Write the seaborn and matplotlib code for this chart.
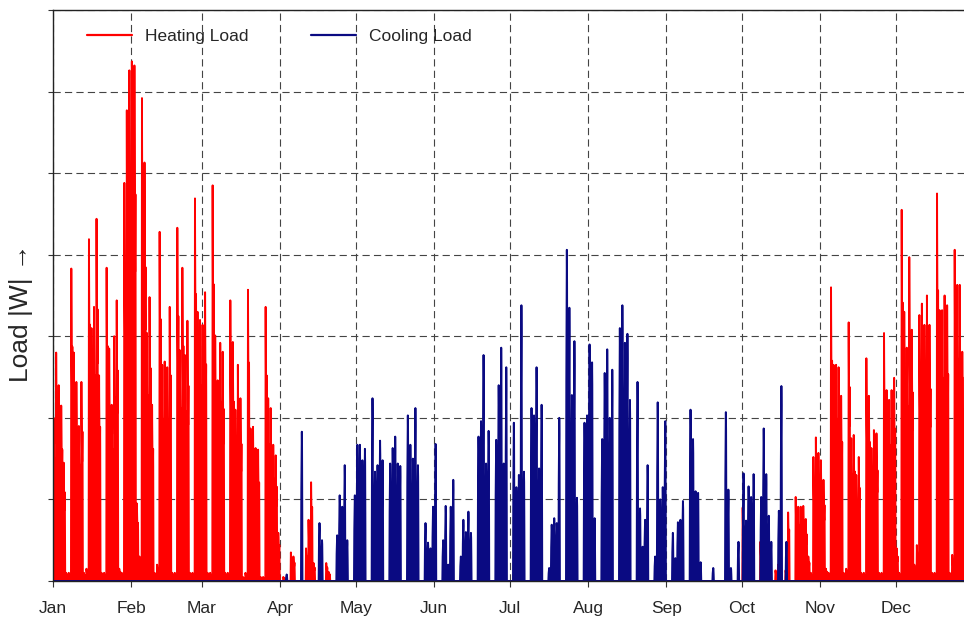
import numpy as np
import pandas as pd
import matplotlib
matplotlib.use("Agg")
import matplotlib.pyplot as plt
import seaborn as sns

# ---------------- data ----------------
months = ["Jan", "Feb", "Mar", "Apr", "May", "Jun", "Jul", "Aug", "Sep", "Oct", "Nov", "Dec"]
month_start_day = [0, 31, 59, 90, 120, 151, 181, 212, 243, 273, 304, 334]

# daily peak heating load (grid units), Jan 1 .. Apr 21 (days 0-111), one row per week
heat_winter = [
    2.00, 2.80, 2.40, 2.15, 1.45, 0.10, 0.10,
    3.83, 2.80, 2.44, 1.90, 2.44, 0.10, 0.15,
    4.19, 3.10, 3.36, 4.44, 2.52, 0.10, 0.10,
    3.84, 2.85, 2.16, 3.00, 3.44, 0.15, 0.10,
    4.88, 5.77, 6.26, 6.37, 6.32, 0.95, 0.30,
    5.92, 5.13, 3.04, 3.48, 2.16, 0.10, 0.20,
    4.28, 2.65, 2.69, 2.62, 3.36, 0.10, 0.10,
    4.33, 2.83, 3.84, 2.77, 3.19, 0.10, 0.10,
    4.69, 3.30, 3.20, 3.14, 3.54, 0.10, 0.10,
    4.85, 3.01, 2.46, 2.92, 2.81, 0.10, 0.10,
    3.44, 2.93, 2.10, 2.65, 2.24, 0.05, 0.10,
    3.57, 1.87, 1.89, 1.63, 1.61, 0.05, 0.05,
    3.36, 2.24, 2.12, 1.67, 1.54, 0.59, 0.00,
    0.05, 0.00, 0.00, 0.35, 0.30, 0.00, 0.00,
    0.00, 0.00, 0.40, 0.75, 1.21, 0.22, 0.00,
    0.00, 0.00, 0.00, 0.22, 0.11, 0.00, 0.00,
]
heat_summer_days_off = 161  # days 112-272 without heating
# daily peak heating load, days 273-364
heat_autumn = [
    0.90, 0.60, 0.00, 0.00, 0.00, 0.00, 0.00,
    0.48, 0.30, 0.00, 0.00, 0.00, 0.00, 0.13,
    0.20, 0.00, 0.00, 0.13, 0.84, 0.00, 0.00,
    1.03, 0.91, 0.91, 0.92, 0.76, 0.30, 0.10,
    1.52, 1.76, 1.57, 1.48, 1.24, 0.15, 0.10,
    3.60, 2.65, 2.65, 2.62, 2.27, 0.10, 0.15,
    3.17, 1.75, 1.79, 1.30, 1.52, 0.10, 0.10,
    2.73, 2.27, 1.63, 1.85, 1.81, 0.10, 0.10,
    3.04, 2.34, 2.22, 2.34, 2.49, 0.40, 0.10,
    4.55, 3.30, 2.86, 3.97, 3.08, 0.20, 0.44,
    3.26, 3.40, 3.14, 3.50, 3.14, 0.10, 0.10,
    4.75, 3.32, 3.32, 3.50, 3.38, 0.10, 0.32,
    4.06, 3.63, 3.63, 2.81, 2.50, 0.10, 0.10,
    3.00,
]

cool_days_off_start = 91  # days 0-90 without cooling
# daily peak cooling load, days 91-293
cool_season = [
    0.00, 0.08, 0.00, 0.00, 0.00, 0.00, 0.00,
    1.83, 0.00, 0.00, 0.00, 0.00, 0.00, 0.00,
    0.71, 0.50, 0.00, 0.00, 0.00, 0.00, 0.00,
    0.56, 1.05, 0.91, 1.42, 0.50, 0.00, 0.00,
    1.05, 1.67, 1.67, 1.48, 1.62, 0.00, 0.00,
    2.24, 1.34, 1.42, 1.72, 1.48, 0.00, 0.00,
    1.44, 1.63, 1.77, 1.44, 1.41, 0.00, 0.00,
    2.03, 1.67, 1.50, 2.12, 1.42, 0.00, 0.00,
    0.71, 0.47, 0.40, 0.91, 1.68, 0.00, 0.00,
    0.50, 0.92, 0.20, 0.91, 1.24, 0.00, 0.00,
    0.30, 0.75, 0.60, 0.85, 0.59, 0.00, 0.00,
    1.77, 1.96, 2.77, 1.44, 1.84, 0.00, 0.00,
    1.73, 2.40, 2.86, 1.44, 2.62, 0.00, 0.00,
    1.94, 1.15, 1.30, 3.38, 1.34, 0.00, 0.00,
    2.12, 2.03, 2.62, 1.38, 2.16, 0.00, 0.00,
    0.16, 0.69, 0.77, 0.71, 2.00, 0.00, 0.00,
    4.06, 3.35, 2.28, 2.94, 1.02, 0.00, 0.00,
    1.94, 2.03, 2.90, 2.68, 0.77, 0.00, 0.00,
    1.74, 2.55, 2.84, 2.00, 2.59, 0.00, 0.00,
    3.10, 3.38, 2.92, 3.03, 2.22, 0.00, 0.00,
    2.44, 0.89, 0.42, 0.75, 1.42, 0.00, 0.00,
    0.30, 2.19, 1.00, 1.15, 1.96, 0.00, 0.00,
    0.59, 0.28, 0.72, 0.75, 0.98, 0.00, 0.00,
    2.10, 1.74, 1.10, 1.08, 0.23, 0.00, 0.00,
    0.00, 0.00, 0.16, 0.00, 0.00, 0.00, 0.00,
    2.07, 1.12, 0.16, 0.00, 0.00, 0.48, 0.00,
    1.32, 0.74, 1.16, 1.03, 1.31, 0.00, 0.00,
    1.03, 1.87, 1.31, 0.80, 0.48, 0.00, 0.00,
    0.86, 2.39, 0.00, 0.48, 0.00, 0.00, 0.00,
]
cool_days_off_end = 71  # days 294-364 without cooling

# relative hourly shape of a day (fraction of the daily peak)
heat_profile = [0, 0, 0, 0, 0.3, 0.6, 1.0, 0.9, 0.8, 0.75, 0.7, 0.65,
                0.6, 0.6, 0.65, 0.7, 0.75, 0.65, 0.4, 0, 0, 0, 0, 0]
cool_profile = [0, 0, 0, 0, 0, 0, 0, 0.3, 0.45, 0.6, 0.7, 0.8,
                0.85, 0.9, 1.0, 0.95, 0.9, 0.75, 0.5, 0, 0, 0, 0, 0]

legend_labels = ["Heating Load", "Cooling Load"]
y_label = "Load |W| \u2192"

# ---------------- build hourly table ----------------
heat_daily = np.concatenate([heat_winter, np.zeros(heat_summer_days_off), heat_autumn])
cool_daily = np.concatenate([np.zeros(cool_days_off_start), cool_season, np.zeros(cool_days_off_end)])
heat_hourly = np.outer(heat_daily, heat_profile).ravel()
cool_hourly = np.outer(cool_daily, cool_profile).ravel()
hours = np.arange(heat_hourly.size)
df = pd.DataFrame({"hour": hours, "heat": heat_hourly, "cool": cool_hourly})

# ---------------- style ----------------
sns.set_theme(style="white")
plt.rcParams["font.family"] = ["Liberation Sans", "DejaVu Sans"]

W, H = 964, 621
fig = plt.figure(figsize=(W / 100, H / 100), dpi=100)
ax_left, ax_top, ax_bottom = 53, 10, 581
ax_right = 53 + 365 * 2.524
ax = fig.add_axes([ax_left / W, 1 - ax_bottom / H, (ax_right - ax_left) / W, (ax_bottom - ax_top) / H])

red = "#ff0000"
navy = "#0a0a82"
sns.lineplot(data=df, x="hour", y="heat", ax=ax, color=red, lw=1.4,
             estimator=None, sort=False, label=legend_labels[0])
sns.lineplot(data=df, x="hour", y="cool", ax=ax, color=navy, lw=1.4,
             estimator=None, sort=False, label=legend_labels[1])

ax.set_xlim(0, 365 * 24)
ax.set_ylim(0, 7)

month_hours = [d * 24 for d in month_start_day]
ax.set_xticks(month_hours)
ax.set_xticklabels(months)
ax.set_yticks(np.arange(0, 8))
ax.set_yticklabels([])
ax.set_xlabel("")
ax.set_ylabel(y_label, fontsize=19)
ax.yaxis.set_label_coords(-0.022, 0.47)

ax.tick_params(axis="x", which="major", direction="out", length=4.5, width=0.8,
               color="#333333", labelsize=12.5, pad=10, bottom=True)
ax.tick_params(axis="y", which="major", direction="out", length=3.8, width=0.8,
               color="#333333", left=True)

ax.grid(True, which="major", color="#444444", lw=0.8, linestyle=(0, (6.5, 3.8)))
ax.set_axisbelow(True)

for side in ["left", "top", "bottom"]:
    ax.spines[side].set_visible(True)
    ax.spines[side].set_color("#222222")
    ax.spines[side].set_linewidth(1.0)
ax.spines["right"].set_visible(False)

leg = ax.legend(loc="upper left", bbox_to_anchor=((87 - 53) / (ax_right - ax_left), 1 - 19 / 571),
                ncol=2, frameon=False, fontsize=12.5, handlelength=2.6, handletextpad=0.75,
                columnspacing=3.6, borderpad=0, borderaxespad=0)
for line in leg.get_lines():
    line.set_linewidth(1.6)

fig.savefig("out.png", dpi=100)
